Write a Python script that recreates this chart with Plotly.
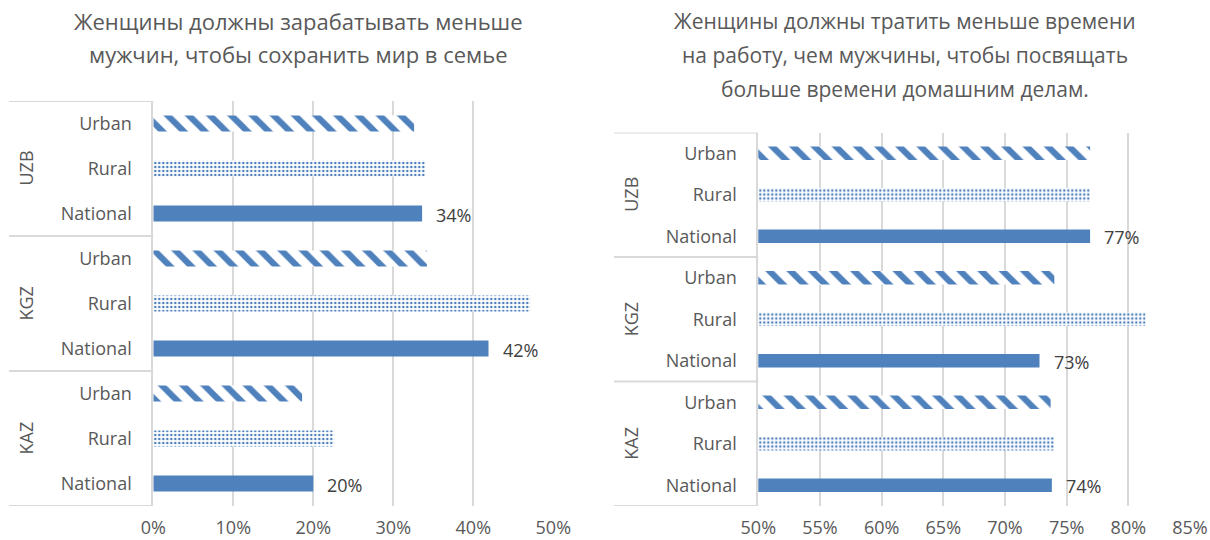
import plotly.graph_objects as go

# ---------------- data ----------------
countries = ["UZB", "KGZ", "KAZ"]            # top to bottom
areas = ["Urban", "Rural", "National"]       # top to bottom inside each country

left_title = ["Женщины должны зарабатывать меньше",
              "мужчин, чтобы сохранить мир в семье"]
right_title = ["Женщины должны тратить меньше времени",
               "на работу, чем мужчины, чтобы посвящать",
               "больше времени домашним делам."]

# values in %, order follows `countries`
left_urban = [32.6, 34.2, 18.6]
left_rural = [34.0, 47.1, 22.6]
left_national = [33.6, 41.9, 20.0]

right_urban = [76.9, 74.0, 73.7]
right_rural = [76.9, 81.4, 74.0]
right_national = [76.9, 72.8, 73.8]

left_ticks = [0, 10, 20, 30, 40, 50]
right_ticks = [50, 55, 60, 65, 70, 75, 80, 85]

# ---------------- style ----------------
BLUE = "#4F81BD"
GRID = "#D9D9D9"
TXT = "#595959"
FONT = "Open Sans"
W, H = 1210, 540

cats = [f"{c} {a}" for c in countries for a in areas]
cat_text = [a for c in countries for a in areas]

fig = go.Figure()


def add_chart(urb, rur, nat, xref, yref, width):
    styles = {
        "Urban": dict(color="white", line=dict(width=0),
                      pattern=dict(shape="\\", fgcolor=BLUE, bgcolor="white", fgopacity=1,
                                   size=15, solidity=0.42)),
        "Rural": dict(color="white", line=dict(width=0),
                      pattern=dict(shape=".", fgcolor=BLUE, bgcolor="white", fgopacity=1,
                                   size=4, solidity=0.3)),
        "National": dict(color=BLUE, line=dict(width=0)),
    }
    for area, vals in zip(areas, [urb, rur, nat]):
        fig.add_trace(go.Bar(
            x=vals, y=[f"{c} {area}" for c in countries], orientation="h",
            marker=styles[area], width=width, xaxis=xref, yaxis=yref,
            showlegend=False, hoverinfo="x+y"))
    for c, v in zip(countries, nat):
        fig.add_annotation(x=v, y=f"{c} National", xref=xref, yref=yref,
                           text=f"{v:.0f}%", showarrow=False, xanchor="left", xshift=12,
                           yshift=-1, font=dict(family=FONT, size=18, color="#404040"))


add_chart(left_urban, left_rural, left_national, "x", "y", 0.36)
add_chart(right_urban, right_rural, right_national, "x2", "y2", 0.33)

n = len(cats)
common_x = dict(showgrid=True, gridcolor=GRID, gridwidth=2, zeroline=False, showline=False,
                ticks="", tickfont=dict(family=FONT, size=18, color=TXT),
                fixedrange=True, ticklabelstandoff=9, automargin=False)
common_y = dict(type="category", categoryarray=cats, range=[n - 0.5, -0.5],
                tickmode="array", tickvals=cats, ticktext=cat_text,
                showgrid=False, zeroline=False, showline=True, linecolor=GRID, linewidth=2,
                ticks="", ticklabelstandoff=16, automargin=False, fixedrange=True,
                tickfont=dict(family=FONT, size=18, color=TXT))

L = dict(x0=153.3, x1=553.3, top=101, bottom=506, box=9, glabel=25,
         tcx=298, tys=[21, 54], tsize=22)
R = dict(x0=758.3, x1=1190, top=132.5, bottom=506, box=614, glabel=631,
         tcx=905, tys=[21, 55, 89], tsize=21)

fig.update_layout(
    width=W, height=H, margin=dict(l=0, r=0, t=0, b=0, autoexpand=False),
    paper_bgcolor="white", plot_bgcolor="white", barmode="overlay",
    xaxis=dict(domain=[L["x0"] / W, L["x1"] / W], range=[left_ticks[0], left_ticks[-1]],
               tickvals=left_ticks, ticktext=[f"{t}%" for t in left_ticks], anchor="y", **common_x),
    yaxis=dict(domain=[1 - L["bottom"] / H, 1 - L["top"] / H], anchor="x", **common_y),
    xaxis2=dict(domain=[R["x0"] / W, R["x1"] / W], range=[right_ticks[0], right_ticks[-1]],
                tickvals=right_ticks, ticktext=[f"{t}%" for t in right_ticks], anchor="y2", **common_x),
    yaxis2=dict(domain=[1 - R["bottom"] / H, 1 - R["top"] / H], anchor="x2", **common_y),
)

# titles (one annotation per line to match the line spacing)
for spec, lines in [(L, left_title), (R, right_title)]:
    for ty, line in zip(spec["tys"], lines):
        fig.add_annotation(x=spec["tcx"] / W, y=1 - ty / H, xref="paper", yref="paper", text=line,
                           showarrow=False, xanchor="center", yanchor="middle",
                           font=dict(family=FONT, size=spec["tsize"], color=TXT))

# category-axis group dividers and group labels
ng = len(areas)
for spec, yref in [(L, "y"), (R, "y2")]:
    for g in range(len(countries) + 1):
        yb = g * ng - 0.5
        fig.add_shape(type="line", xref="paper", yref=yref, x0=spec["box"] / W, x1=spec["x0"] / W,
                      y0=yb, y1=yb, line=dict(color=GRID, width=2))
    for gi, c in enumerate(countries):
        fig.add_annotation(x=spec["glabel"] / W, y=cats[gi * ng + 1], xref="paper", yref=yref,
                           text=c, textangle=-90, showarrow=False, xanchor="center",
                           font=dict(family=FONT, size=18, color=TXT))

fig.write_html(
    "out.html",
    config={"displayModeBar": False},
    post_script="document.body.style.margin='0';document.body.style.overflow='hidden';",
)
